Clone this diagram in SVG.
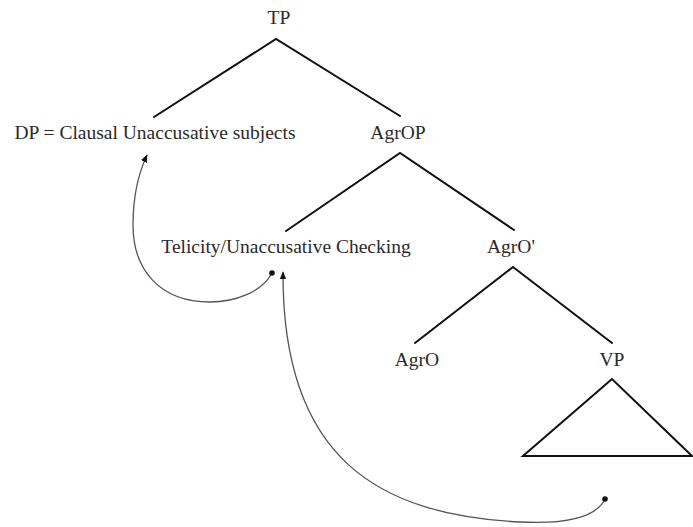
<svg xmlns="http://www.w3.org/2000/svg" width="693" height="527" viewBox="0 0 693 527">
  <style>
    .lbl { font-family: "Liberation Serif", "Times New Roman", serif; font-size: 19.5px; fill: #2a2a2a; text-anchor: middle; }
    .branch { stroke: #111; stroke-width: 2; fill: none; stroke-linecap: round; }
    .move { stroke: #555; stroke-width: 1.3; fill: none; }
    .dot { fill: #111; }
  </style>
  <defs>
    <marker id="head" viewBox="0 0 10 10" refX="9" refY="5" markerWidth="8" markerHeight="8" orient="auto" markerUnits="userSpaceOnUse">
      <path d="M0,1 L10,5 L0,9 Z" fill="#111"/>
    </marker>
  </defs>

  <rect width="693" height="527" fill="#fff"/>

  <g id="tp">
    <text class="lbl" x="279" y="24">TP</text>
  </g>
  <g id="dp">
    <text class="lbl" x="155" y="139">DP = Clausal Unaccusative subjects</text>
  </g>
  <g id="agrop">
    <text class="lbl" x="398" y="139">AgrOP</text>
  </g>
  <g id="telicity">
    <text class="lbl" x="286" y="253">Telicity/Unaccusative Checking</text>
  </g>
  <g id="agro-bar">
    <text class="lbl" x="511" y="253">AgrO'</text>
  </g>
  <g id="agro">
    <text class="lbl" x="417" y="366">AgrO</text>
  </g>
  <g id="vp">
    <text class="lbl" x="612" y="366">VP</text>
    <path class="branch" d="M612,379 L523,456 L692,456 Z" stroke-linejoin="miter"/>
  </g>

  <g id="connectors">
    <!-- tree branches -->
    <path class="branch" d="M154,117 L276,39 L400,116"/>
    <path class="branch" d="M286,231 L400,153 L514,230"/>
    <path class="branch" d="M415,343 L513,267 L612,343"/>
    <!-- movement paths -->
    <path class="move" d="M272,273 C262,292 235,302 210,302 C160,302 133,270 133,225 C133,195 140,170 147,155" marker-end="url(#head)"/>
    <circle class="dot" cx="272" cy="273" r="2.8"/>
    <path class="move" d="M605,499 C595,520 560,524 520,522 C380,515 282,460 283,272" marker-end="url(#head)"/>
    <circle class="dot" cx="605" cy="499" r="2.8"/>
  </g>
</svg>
